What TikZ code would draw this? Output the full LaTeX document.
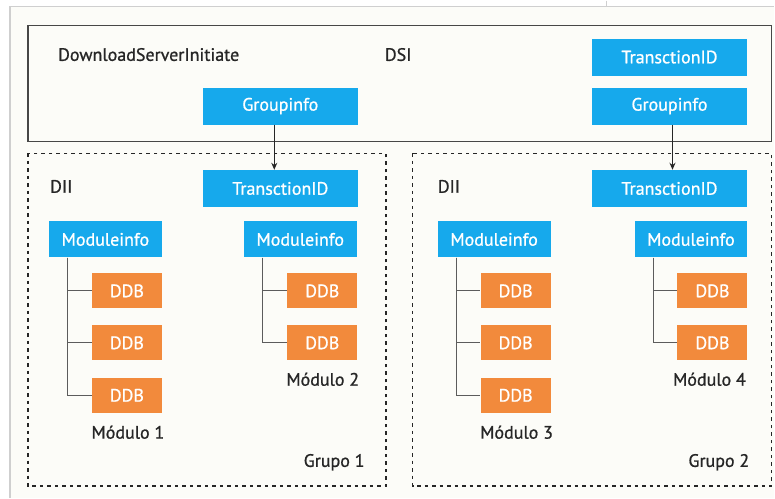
\documentclass[tikz,border=0pt]{standalone}
\usepackage{fontspec}
\setmainfont{PT Sans}
\newfontfamily\medfont{PT Sans}[FakeBold=0.9]
\usetikzlibrary{arrows.meta}
\definecolor{boxblue}{HTML}{16A9EC}
\definecolor{boxorange}{HTML}{F28A3C}
\definecolor{ink}{HTML}{262626}
\definecolor{paper}{HTML}{FCFCF8}
\definecolor{edge}{HTML}{CFCFCF}
\tikzset{
  x=1pt, y=-1pt,
  lbl/.style={font=\medfont\fontsize{18}{21}\selectfont, text=ink, inner sep=0},
  bluebox/.style={fill=boxblue, text=white, inner sep=0,
    font=\medfont\fontsize{18}{21}\selectfont, minimum width=155pt, minimum height=37pt},
  modbox/.style={bluebox, minimum width=113pt, minimum height=36pt},
  ddbbox/.style={fill=boxorange, text=white, inner sep=0,
    font=\medfont\fontsize{18}{21}\selectfont, minimum width=70pt, minimum height=35pt},
  dsiframe/.style={draw=ink!85, line width=1.4pt},
  groupframe/.style={draw=ink, line width=1.6pt, dash pattern=on 3.5pt off 4pt},
  tree/.style={draw=ink!75, line width=1.1pt},
  link/.style={draw=ink, line width=1.1pt, -{Stealth[length=7pt,width=6pt]}},
}
\begin{document}
\begin{tikzpicture}
% page and its scanned border
\fill[white] (0,0) rectangle (775,498);
\fill[paper] (10,6) rectangle (775,498);
\draw[edge, line width=1.2pt] (10,498) -- (10,6) -- (775,6);
\draw[edge, line width=1.2pt] (607,0) -- (607,6);
\useasboundingbox (0,0) rectangle (775,498);

% DownloadServerInitiate block
\draw[dsiframe] (28,25) rectangle (772,141);
\node[lbl, anchor=west] (dsiname) at (58,54) {DownloadServerInitiate};
\node[lbl, anchor=west] (dsi) at (385,54) {DSI};
\node[bluebox] (tid0) at (670,56.5) {TransctionID};
\node[bluebox] (gi1) at (280.5,105.5) {Groupinfo};
\node[bluebox] (gi2) at (670,105.5) {Groupinfo};

% group frames
\draw[groupframe] (28,153) rectangle (386,486);
\draw[groupframe] (413,153) rectangle (772,486);

% group 1
\node[lbl, anchor=west] (dii1) at (50,186) {DII};
\node[bluebox] (tid1) at (280.5,188) {TransctionID};
\node[modbox] (mi1) at (105.5,239) {Moduleinfo};
\node[modbox] (mi2) at (300.5,239) {Moduleinfo};
\node[ddbbox] (d11) at (127,290.5) {DDB};
\node[ddbbox] (d12) at (127,342.5) {DDB};
\node[ddbbox] (d13) at (127,395) {DDB};
\node[ddbbox] (d21) at (322.5,290.5) {DDB};
\node[ddbbox] (d22) at (322.5,342.5) {DDB};
\node[lbl] (m1) at (128,432) {Módulo 1};
\node[lbl] (m2) at (323,379) {Módulo 2};
\node[lbl, anchor=east] (g1) at (365,462) {Grupo 1};

% group 2
\node[lbl, anchor=west] (dii2) at (438,186) {DII};
\node[bluebox] (tid2) at (670,188) {TransctionID};
\node[modbox] (mi3) at (494.5,239) {Moduleinfo};
\node[modbox] (mi4) at (691.5,239) {Moduleinfo};
\node[ddbbox] (d31) at (516,290.5) {DDB};
\node[ddbbox] (d32) at (516,342.5) {DDB};
\node[ddbbox] (d33) at (516,395) {DDB};
\node[ddbbox] (d41) at (713,290.5) {DDB};
\node[ddbbox] (d42) at (713,342.5) {DDB};
\node[lbl] (m3) at (517,432) {Módulo 3};
\node[lbl] (m4) at (710,379) {Módulo 4};
\node[lbl, anchor=east] (g2) at (750,462) {Grupo 2};

% Groupinfo -> TransctionID
\draw[link] ([xshift=-6pt]gi1.south) -- ([xshift=-6pt]tid1.north);
\draw[link] ([xshift=3pt]gi2.south) -- ([xshift=3pt]tid2.north);

% module trees
\foreach \m/\d in {mi1/d11, mi1/d12, mi1/d13, mi2/d21, mi2/d22,
                   mi3/d31, mi3/d32, mi3/d33, mi4/d41, mi4/d42}
  \draw[tree] ([xshift=19pt]\m.south west) |- (\d.west);
\end{tikzpicture}
\end{document}
